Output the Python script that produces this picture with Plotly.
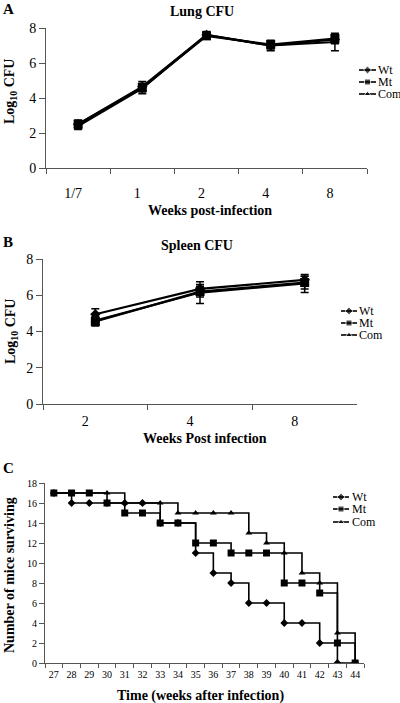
import plotly.graph_objects as go

W, H = 400, 703
FONT = "Liberation Serif"

# ---------------- data ----------------
lung_weeks = ["1/7", "1", "2", "4", "8"]
lung_wt = [2.5, 4.65, 7.6, 7.0, 7.35]
lung_wt_err = [0.25, 0.3, 0.2, 0.25, 0.25]
lung_mt = [2.5, 4.6, 7.55, 7.05, 7.4]
lung_mt_err = [0.2, 0.2, 0.15, 0.2, 0.2]
lung_com = [2.4, 4.55, 7.6, 7.0, 7.2]
lung_com_err = [0.2, 0.3, 0.15, 0.3, 0.5]

spleen_weeks = ["2", "4", "8"]
spleen_wt = [4.95, 6.35, 6.85]
spleen_wt_err = [0.3, 0.25, 0.2]
spleen_mt = [4.55, 6.2, 6.7]
spleen_mt_err = [0.25, 0.3, 0.35]
spleen_com = [4.6, 6.15, 6.65]
spleen_com_err = [0.2, 0.6, 0.5]

surv_weeks = [str(w) for w in range(27, 45)]
surv_wt = [17, 16, 16, 16, 16, 16, 14, 14, 11, 9, 8, 6, 6, 4, 4, 2, 0, 0]
surv_mt = [17, 17, 17, 16, 15, 15, 14, 14, 12, 12, 11, 11, 11, 8, 8, 7, 2, 0]
surv_com = [17, 17, 17, 17, 16, 16, 16, 15, 15, 15, 15, 13, 12, 11, 9, 8, 3, 0]

series_names = ["Wt", "Mt", "Com"]
symbols = ["diamond", "square", "triangle-up"]


def px(x):
    return x / W


def py(y):
    return 1 - y / H


fig = go.Figure()

# ---------------- panel A ----------------
for name, sym, vals, err in zip(series_names, symbols,
                                [lung_wt, lung_mt, lung_com],
                                [lung_wt_err, lung_mt_err, lung_com_err]):
    fig.add_trace(go.Scatter(
        x=lung_weeks, y=vals, mode="lines+markers", name=name,
        line=dict(color="black", width=2.2),
        marker=dict(symbol=sym, size=8 if sym != "square" else 9, color="black"),
        error_y=dict(type="data", array=err, color="black", thickness=1.5, width=4),
        xaxis="x", yaxis="y", showlegend=False))

# ---------------- panel B ----------------
for name, sym, vals, err in zip(series_names, symbols,
                                [spleen_wt, spleen_mt, spleen_com],
                                [spleen_wt_err, spleen_mt_err, spleen_com_err]):
    fig.add_trace(go.Scatter(
        x=spleen_weeks, y=vals, mode="lines+markers", name=name,
        line=dict(color="black", width=2.2),
        marker=dict(symbol=sym, size=8 if sym != "square" else 9, color="black"),
        error_y=dict(type="data", array=err, color="black", thickness=1.5, width=4),
        xaxis="x2", yaxis="y2", showlegend=False))

# ---------------- panel C ----------------
for name, sym, vals in zip(series_names, symbols, [surv_wt, surv_mt, surv_com]):
    fig.add_trace(go.Scatter(
        x=surv_weeks, y=vals, mode="lines+markers", name=name,
        line=dict(color="black", width=1.6, shape="hv"),
        marker=dict(symbol=sym, size=6 if sym != "square" else 7, color="black"),
        xaxis="x3", yaxis="y3", showlegend=False))

# ---------------- manual legends (pixel overlay axis) ----------------
legend_specs = [
    # (line x0, x1, text x, [y for Wt, Mt, Com])
    (359, 376, 378, [70, 82, 94]),
    (341, 357, 359, [311, 323, 335]),
    (333, 349, 352, [497, 509, 522]),
]
for lx0, lx1, tx, ys in legend_specs:
    for name, sym, yy in zip(series_names, symbols, ys):
        fig.add_trace(go.Scatter(
            x=[lx0, (lx0 + lx1) / 2, lx1], y=[yy, yy, yy], mode="lines+markers",
            line=dict(color="black", width=1.6),
            marker=dict(symbol=sym, size=[0, 6, 0], color="black"),
            xaxis="x4", yaxis="y4", showlegend=False, hoverinfo="skip"))
        fig.add_annotation(x=tx, y=yy, xref="x4", yref="y4", text=name,
                           showarrow=False, xanchor="left", yanchor="middle",
                           xshift=-2,
                           font=dict(family=FONT, size=12, color="black"))

axis_common = dict(showgrid=False, zeroline=False, showline=True, automargin=False,
                   linecolor="#555555", linewidth=1, ticks="outside",
                   tickcolor="#555555")
f14 = dict(tickfont=dict(family=FONT, size=14, color="black"))
f10 = dict(tickfont=dict(family=FONT, size=10, color="black"))

fig.update_layout(
    width=W, height=H,
    margin=dict(l=0, r=0, t=0, b=0, autoexpand=False),
    paper_bgcolor="white", plot_bgcolor="rgba(0,0,0,0)",
    font=dict(family=FONT, color="black"),
    # A
    xaxis=dict(domain=[px(46), px(367)], anchor="y", type="category",
               range=[-0.5, len(lung_weeks) - 0.5],
               tickson="boundaries", ticklen=5, ticklabelshift=-5,
               ticklabelstandoff=12, **axis_common, **f14),
    yaxis=dict(domain=[py(168), py(28)], anchor="x", range=[0, 8],
               tickvals=[0, 2, 4, 6, 8], ticklen=6, **axis_common, **f14),
    # B
    xaxis2=dict(domain=[px(43), px(357)], anchor="y2", type="category",
                range=[-0.5, len(spleen_weeks) - 0.5],
                tickson="boundaries", ticklen=5, ticklabelshift=-10,
                ticklabelstandoff=4, **axis_common, **f14),
    yaxis2=dict(domain=[py(404), py(259)], anchor="x2", range=[0, 8],
                tickvals=[0, 2, 4, 6, 8], ticklen=6, **axis_common, **f14),
    # C
    xaxis3=dict(domain=[px(45), px(364)], anchor="y3", type="category",
                range=[-0.5, len(surv_weeks) - 0.5],
                tickson="boundaries", ticklen=4, ticklabelstandoff=2, tickangle=0,
                **axis_common, **f10),
    yaxis3=dict(domain=[py(663), py(483)], anchor="x3", range=[0, 18],
                tickvals=list(range(0, 19, 2)), ticklen=5, **axis_common, **f10),
    # overlay for legends
    xaxis4=dict(domain=[0, 1], range=[0, W], visible=False, anchor="y4",
                fixedrange=True, automargin=False),
    yaxis4=dict(domain=[0, 1], range=[H, 0], visible=False, anchor="x4",
                fixedrange=True, automargin=False),
)

bold = dict(family=FONT, color="black")
texts = [
    # (text, x, y, size, angle)
    ("<b>A</b>", 8, 9, 15, 0),
    ("<b>Lung CFU</b>", 202, 11, 14, 0),
    ("<b>Log<sub>10</sub> CFU</b>", 11, 92, 14, -90),
    ("<b>Weeks post-infection</b>", 210, 211, 14, 0),
    ("<b>B</b>", 8, 242, 15, 0),
    ("<b>Spleen CFU</b>", 197, 245, 14, 0),
    ("<b>Log<sub>10</sub> CFU</b>", 11, 332, 14, -90),
    ("<b>Weeks Post infection</b>", 205, 438, 14, 0),
    ("<b>C</b>", 8, 468, 15, 0),
    ("<b>Number of mice surviving</b>", 9, 575, 14, -90),
    ("<b>Time (weeks after infection)</b>", 200, 696, 14, 0),
]
for t, x, y, s, a in texts:
    fig.add_annotation(x=px(x), y=py(y), xref="paper", yref="paper", text=t,
                       showarrow=False, xanchor="center", yanchor="middle",
                       textangle=a, font=dict(size=s, **bold))

fig.write_html("out.html", config={"displayModeBar": False},
               post_script="document.body.style.margin='0px';document.body.style.overflow='hidden';")
